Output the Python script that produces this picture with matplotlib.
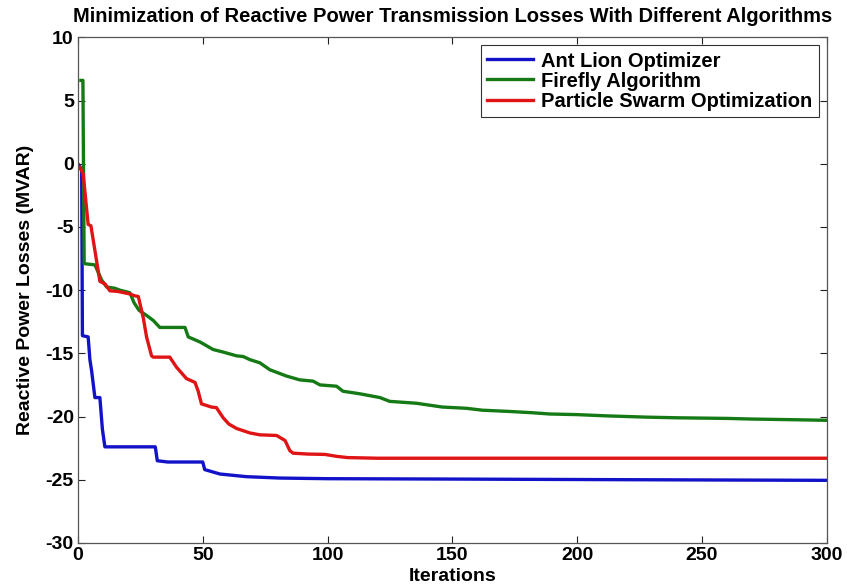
import matplotlib
matplotlib.use("Agg")
import matplotlib.pyplot as plt

plt.rcParams['font.family'] = ['Liberation Sans', 'DejaVu Sans']
plt.rcParams['font.weight'] = 'bold'
plt.rcParams['axes.unicode_minus'] = False

# Ant Lion Optimizer
alo_x = [0, 1.0, 1.5, 1.8, 4.1, 4.8, 5.5, 6.8, 8.8, 9.8, 10.8, 31.0, 31.8, 36, 50.0, 50.8,
         56.9, 67.5, 80.9, 100, 150, 220, 300]
alo_y = [0, -0.3, -0.5, -13.6, -13.7, -15.5, -16.4, -18.5, -18.5, -21.0, -22.4, -22.4, -23.5,
         -23.6, -23.6, -24.2, -24.55, -24.76, -24.87, -24.92, -24.95, -25.0, -25.05]

# Firefly Algorithm
fa_x = [1.2, 2.0, 2.5, 6.8, 9.5, 11.5, 14.8, 16.8, 20.8, 22.5, 24.5, 27.5, 30.2, 32.8, 42.9,
        44.2, 48.9, 54.2, 58.2, 63.6, 66.2, 68.9, 72.9, 76.9, 83.6, 88.9, 94.2, 97, 103.6,
        106.2, 112.9, 121, 124.9, 135.6, 146, 155.7, 162, 173, 182, 189, 200, 212, 220, 228,
        240, 260, 270, 286, 300]
fa_y = [6.6, 6.6, -7.9, -8.0, -9.2, -9.75, -9.85, -10.0, -10.2, -11.0, -11.6, -12.0, -12.4,
        -12.95, -12.95, -13.7, -14.1, -14.7, -14.9, -15.2, -15.25, -15.5, -15.75, -16.3, -16.8,
        -17.1, -17.2, -17.5, -17.6, -18.0, -18.2, -18.5, -18.8, -18.95, -19.25, -19.35, -19.5,
        -19.6, -19.7, -19.8, -19.85, -19.95, -20.0, -20.05, -20.1, -20.15, -20.2, -20.25, -20.3]

# Particle Swarm Optimization
pso_x = [0.8, 2.1, 4.1, 5.2, 8.8, 10.8, 12.8, 16.0, 20.8, 22.8, 24.2, 26.2, 27.5, 29.5, 30.2,
         36.8, 39.5, 43.5, 46.9, 48.2, 49.5, 53.5, 55.5, 58.2, 60.5, 63.6, 68.9, 72.9, 79.6,
         83.0, 84.9, 86.2, 92, 99.0, 103.6, 108, 120, 300]
pso_y = [-0.3, -0.8, -4.8, -4.9, -9.3, -9.5, -10.05, -10.1, -10.3, -10.45, -10.5, -12.2, -13.7,
         -15.2, -15.3, -15.3, -16.1, -17.0, -17.3, -18.0, -19.0, -19.25, -19.3, -20.1, -20.6,
         -20.95, -21.3, -21.45, -21.5, -21.9, -22.7, -22.9, -22.97, -23.0, -23.15, -23.25,
         -23.3, -23.3]

labels = ['Ant Lion Optimizer', 'Firefly Algorithm', 'Particle Swarm Optimization']
colors = ['#1212c8', '#157a15', '#e01414']

fig = plt.figure(figsize=(8.47, 5.85), dpi=100)
ax = fig.add_axes([0.092, 0.072, 0.884, 0.864])

ax.plot(alo_x, alo_y, color=colors[0], lw=2.4, label=labels[0])
ax.plot(fa_x, fa_y, color=colors[1], lw=2.4, label=labels[1])
ax.plot(pso_x, pso_y, color=colors[2], lw=2.4, label=labels[2])

ax.set_xlim(0, 300)
ax.set_ylim(-30, 10)
ax.set_xticks(range(0, 301, 50))
ax.set_yticks(range(-30, 11, 5))
ax.tick_params(direction='in', top=True, right=True, length=5, width=0.8,
               labelsize=14, colors='#222222', labelcolor='black', pad=3)
for lab in ax.get_xticklabels() + ax.get_yticklabels():
    lab.set_fontweight('bold')
for sp in ax.spines.values():
    sp.set_color('#555555')
    sp.set_linewidth(0.9)

ax.set_title('Minimization of Reactive Power Transmission Losses With Different Algorithms',
             fontsize=14.5, fontweight='bold', pad=11)
ax.set_xlabel('Iterations', fontsize=14, fontweight='bold', labelpad=3)
ax.set_ylabel('Reactive Power Losses (MVAR)', fontsize=14, fontweight='bold', labelpad=8)

leg = ax.legend(loc='upper right', fontsize=14.5, frameon=True, fancybox=False,
                handlelength=2.3, borderaxespad=0.4, labelspacing=0.05, borderpad=0.3,
                handletextpad=0.4)
leg.get_frame().set_edgecolor('black')
leg.get_frame().set_linewidth(0.8)
for t in leg.get_texts():
    t.set_fontweight('bold')

fig.savefig('out.png', dpi=100)
